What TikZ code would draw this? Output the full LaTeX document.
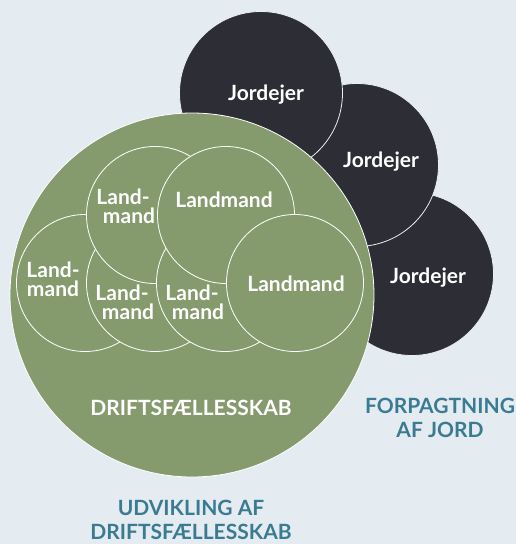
\documentclass[tikz,border=0pt]{standalone}
\usepackage{fontspec}
\setmainfont{Lato}
\definecolor{bgc}{HTML}{E4ECF2}
\definecolor{darkc}{HTML}{2C2D35}
\definecolor{greenc}{HTML}{859B6E}
\definecolor{tealc}{HTML}{3A7B92}
\begin{document}
\begin{tikzpicture}[x=1pt,y=-1pt,
  owner/.style={circle, fill=darkc, draw=white!92!darkc, line width=0.8pt, minimum size=163pt, inner sep=0pt},
  group/.style={circle, fill=greenc, draw=white, line width=0.8pt, minimum size=364pt, inner sep=0pt},
  farmer/.style={circle, fill=greenc, draw=white, line width=0.8pt, minimum size=137pt, inner sep=0pt},
  lbl/.style={text=white, font=\fontsize{21}{19}\selectfont\bfseries, align=center, inner sep=0pt},
  captxt/.style={text=tealc, font=\fontsize{21}{24}\selectfont\bfseries, align=center, inner sep=0pt}
]
\fill[bgc] (0,0) rectangle (516,544);
\useasboundingbox (0,0) rectangle (516,544);
% land owners
\node[owner] (o3) at (412,274) {};
\node[owner] (o2) at (357,165) {};
\node[owner] (o1) at (261,93) {};
% farming community
\node[group] (g) at (192,295) {};
% farmers
\node[farmer] (fa) at (85,283) {};
\node[farmer] (fb) at (155,283) {};
\node[farmer] (fc) at (155,215) {};
\node[farmer] (fd) at (225,283) {};
\node[farmer] (fe) at (226,215) {};
\node[farmer] (ff) at (295,283) {};
% labels
\node[lbl, anchor=base] (t1) at (266,100) {Jordejer};
\node[lbl, anchor=base] (t2) at (381,167) {Jordejer};
\node[lbl, anchor=base] (t3) at (428,283) {Jordejer};
\node[lbl, anchor=base] (le) at (224,207) {Landmand};
\node[lbl, anchor=base] (lf) at (296,291) {Landmand};
\node[lbl] (la) at (53,278.9) {Land-\\mand};
\node[lbl] (lc) at (123,205.9) {Land-\\\hspace*{12pt}mand};
\node[lbl] (lb) at (122,301.9) {Land-\\\hspace*{12pt}mand};
\node[lbl] (ld) at (192,301.9) {Land-\\\hspace*{12pt}mand};
\node[lbl, anchor=base] (lg) at (191,415) {DRIFTSFÆLLESSKAB};
\node[captxt] (c1) at (440,417.5) {FORPAGTNING\\AF JORD};
\node[captxt] (c2) at (191,519.5) {UDVIKLING AF\\DRIFTSFÆLLESSKAB};
\end{tikzpicture}
\end{document}
